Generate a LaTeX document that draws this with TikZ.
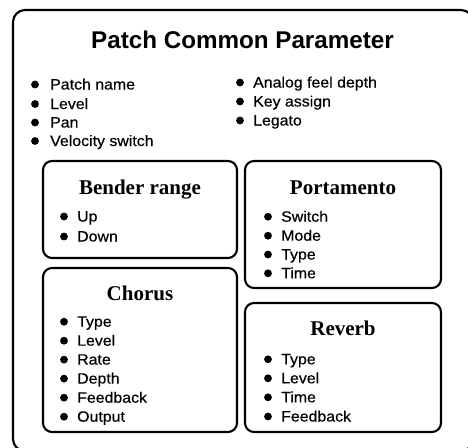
\documentclass[tikz,border=0pt]{standalone}
\usepackage{fontspec}
\setmainfont{Liberation Sans}
\newfontfamily\itemfont[FakeStretch=1.06,FakeBold=0.4]{Liberation Sans}
\newfontfamily\boxtitlefont{Liberation Serif}
\begin{document}
\begin{tikzpicture}[x=1pt,y=-1pt,
  panel/.style={draw, line width=2.1pt, rounded corners=9pt},
  itemtext/.style={anchor=base west, inner sep=0pt, font=\itemfont\fontsize{15}{18}\selectfont},
  dot/.style={circle, fill, inner sep=0pt, minimum size=7.8pt},
  boxtitle/.style={anchor=base, inner sep=0pt, font=\boxtitlefont\bfseries\fontsize{21}{25}\selectfont},
  maintitle/.style={anchor=base, inner sep=0pt, font=\bfseries\fontsize{24.2}{29}\selectfont}]
\useasboundingbox (0,0) rectangle (468,447);
\clip (0,0) rectangle (468,447);
\fill[white] (0,0) rectangle (468,447);
% outer frame
\draw[panel, rounded corners=12pt] (13,10) rectangle (473,451);
\node[maintitle] (title) at (242.5,48.5) {Patch Common Parameter};
\foreach \t/\y [count=\i] in {Patch name/89.5, Level/109, Pan/127.5, Velocity switch/146}{
  \node[dot] (ld\i) at (35,\y-5) {};
  \node[itemtext] (lt\i) at (50,\y) {\t};
}
\foreach \t/\y [count=\i] in {Analog feel depth/87.5, Key assign/106.5, Legato/125.5}{
  \node[dot] (rd\i) at (240,\y-5) {};
  \node[itemtext] (rt\i) at (253,\y) {\t};
}
% Bender range
\draw[panel] (43,161) rectangle (237,258);
\node[boxtitle] (bender) at (140,194) {Bender range};
\foreach \t/\y [count=\i] in {Up/221.5, Down/241.5}{
  \node[dot] (bd\i) at (64,\y-5) {};
  \node[itemtext] (bt\i) at (77,\y) {\t};
}
% Portamento
\draw[panel] (245,161) rectangle (441,288);
\node[boxtitle] (porta) at (343,194) {Portamento};
\foreach \t/\y [count=\i] in {Switch/221.7, Mode/240.7, Type/259.5, Time/278.3}{
  \node[dot] (pd\i) at (268,\y-5) {};
  \node[itemtext] (pt\i) at (281,\y) {\t};
}
% Chorus
\draw[panel] (43,268) rectangle (237,432);
\node[boxtitle] (chorus) at (140,300) {Chorus};
\foreach \t/\y [count=\i] in {Type/326.7, Level/345.7, Rate/364.6, Depth/383.6, Feedback/402.7, Output/421.7}{
  \node[dot] (cd\i) at (64,\y-5) {};
  \node[itemtext] (ct\i) at (77,\y) {\t};
}
% Reverb
\draw[panel] (245,303) rectangle (441,432);
\node[boxtitle] (reverb) at (343,335.7) {Reverb};
\foreach \t/\y [count=\i] in {Type/364.3, Level/383.3, Time/402.3, Feedback/421.5}{
  \node[dot] (vd\i) at (268,\y-5) {};
  \node[itemtext] (vt\i) at (281,\y) {\t};
}
\end{tikzpicture}
\end{document}
